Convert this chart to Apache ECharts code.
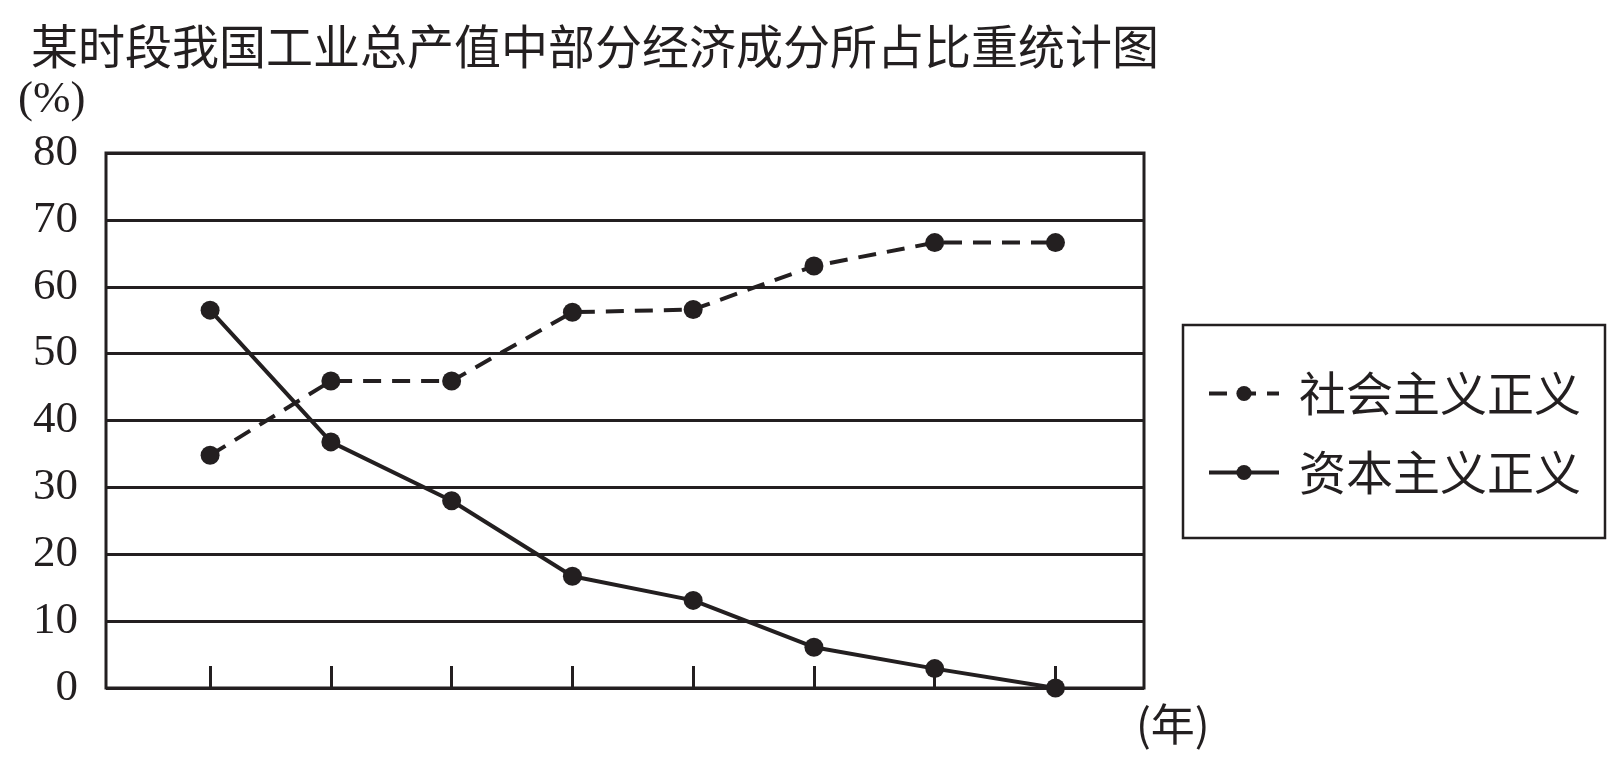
<!DOCTYPE html>
<html>
<head>
<meta charset="utf-8">
<script src="https://cdn.jsdelivr.net/npm/echarts@6/dist/echarts.min.js"></script>
<style>
  html, body { margin: 0; padding: 0; background: #fff; }
  #chart { width: 1619px; height: 772px; }
</style>
</head>
<body>
<div id="chart"></div>
<script>
var titleText = '某时段我国工业总产值中部分经济成分所占比重统计图';
var seriesNames = ['社会主义正义', '资本主义正义'];
var xIndex = [0, 1, 2, 3, 4, 5, 6, 7];
var socialist = [34.8, 45.9, 45.9, 56.2, 56.6, 63.1, 66.6, 66.6];
var capitalist = [56.5, 36.8, 28, 16.7, 13.1, 6.1, 2.9, 0];
var yTicks = [0, 10, 20, 30, 40, 50, 60, 70, 80];

var myChart = echarts.init(document.getElementById('chart'));
var cjk = '"Noto Sans CJK SC", sans-serif';
var num = '"Liberation Serif", "DejaVu Serif", serif';
var ink = '#231f20';

function pairs(vals) {
    var out = [];
    for (var i = 0; i < vals.length; i++) {
        out.push([xIndex[i], vals[i]]);
    }
    return out;
}

var option = {
    backgroundColor: '#fff',
    animation: false,
    title: {
        text: titleText,
        left: 26,
        top: 18,
        textStyle: {
            fontFamily: cjk,
            fontWeight: 'normal',
            fontSize: 47,
            color: ink
        }
    },
    graphic: [
        {
            type: 'text',
            left: 18,
            top: 78,
            style: { text: '(%)', font: '45px ' + num, fill: ink }
        },
        {
            type: 'text',
            left: 1136,
            top: 702,
            style: { text: '(年)', font: '44px ' + cjk, fill: ink }
        }
    ],
    legend: {
        data: seriesNames,
        orient: 'vertical',
        left: 1183,
        top: 325,
        itemWidth: 70,
        itemHeight: 19,
        itemGap: 32,
        padding: [45, 24, 42, 24],
        borderColor: ink,
        borderWidth: 2.5,
        lineStyle: { width: 4 },
        textStyle: {
            fontFamily: cjk,
            fontSize: 47,
            color: ink,
            padding: [0, 0, 0, 15]
        }
    },
    grid: {
        left: 106,
        top: 153,
        right: 475,
        bottom: 84,
        show: true,
        borderColor: ink,
        borderWidth: 3
    },
    xAxis: {
        type: 'value',
        min: -0.862,
        max: 7.733,
        axisLine: { show: false },
        splitLine: { show: false },
        axisLabel: { show: false },
        axisTick: {
            show: true,
            inside: true,
            length: 22,
            customValues: xIndex,
            lineStyle: { color: ink, width: 3 }
        }
    },
    yAxis: {
        type: 'value',
        min: 0,
        max: 80,
        interval: 10,
        axisLine: { show: false },
        axisTick: { show: false },
        axisLabel: {
            margin: 28,
            fontFamily: num,
            fontSize: 45,
            color: ink,
            customValues: yTicks
        },
        splitLine: { lineStyle: { color: ink, width: 3 } }
    },
    series: [
        {
            name: seriesNames[0],
            type: 'line',
            data: pairs(socialist),
            symbol: 'circle',
            symbolSize: 19,
            itemStyle: { color: ink },
            lineStyle: { color: ink, width: 4, type: [18, 11] },
            z: 3
        },
        {
            name: seriesNames[1],
            type: 'line',
            data: pairs(capitalist),
            symbol: 'circle',
            symbolSize: 19,
            itemStyle: { color: ink },
            lineStyle: { color: ink, width: 4 },
            z: 3
        }
    ]
};
myChart.setOption(option);
</script>
</body>
</html>
